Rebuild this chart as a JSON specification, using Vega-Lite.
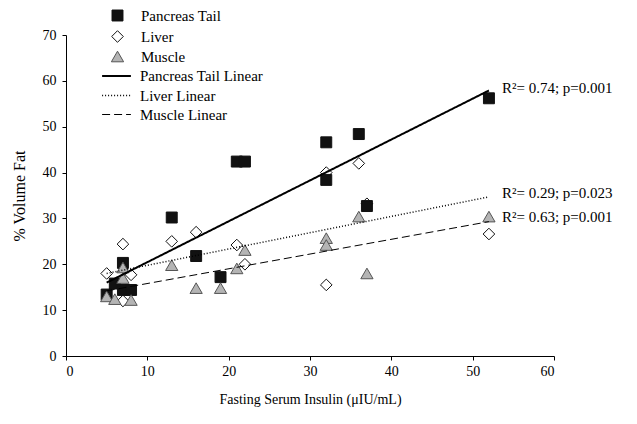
{
  "$schema": "https://vega.github.io/schema/vega-lite/v6.json",
  "width": 488,
  "height": 321,
  "autosize": {"type": "none"},
  "padding": {"left": 66, "top": 35, "right": 83, "bottom": 68},
  "background": "white",
  "config": {
    "view": {"stroke": null},
    "font": "Liberation Serif",
    "axis": {
      "labelFont": "Liberation Serif", "labelFontSize": 14, "labelColor": "#000",
      "titleFont": "Liberation Serif", "titleFontSize": 14, "titleFontWeight": "normal", "titleColor": "#000",
      "domainColor": "#000", "tickColor": "#000", "tickSize": 4, "grid": false
    },
    "legend": {
      "labelFont": "Liberation Serif", "labelFontSize": 15, "labelColor": "#000",
      "titleFont": "Liberation Serif"
    }
  },
  "datasets": {
    "points": [
      {"insulin": 5, "fat": 18.0, "series": "Liver"},
      {"insulin": 7, "fat": 24.4, "series": "Liver"},
      {"insulin": 7, "fat": 12.0, "series": "Liver"},
      {"insulin": 8, "fat": 17.7, "series": "Liver"},
      {"insulin": 13, "fat": 25.0, "series": "Liver"},
      {"insulin": 16, "fat": 27.0, "series": "Liver"},
      {"insulin": 21, "fat": 24.2, "series": "Liver"},
      {"insulin": 22, "fat": 20.0, "series": "Liver"},
      {"insulin": 32, "fat": 40.0, "series": "Liver"},
      {"insulin": 32, "fat": 15.5, "series": "Liver"},
      {"insulin": 36, "fat": 42.0, "series": "Liver"},
      {"insulin": 37, "fat": 33.2, "series": "Liver"},
      {"insulin": 52, "fat": 26.6, "series": "Liver"},
      {"insulin": 5, "fat": 13.4, "series": "Pancreas Tail"},
      {"insulin": 6, "fat": 15.8, "series": "Pancreas Tail"},
      {"insulin": 7, "fat": 20.3, "series": "Pancreas Tail"},
      {"insulin": 7, "fat": 14.4, "series": "Pancreas Tail"},
      {"insulin": 8, "fat": 14.4, "series": "Pancreas Tail"},
      {"insulin": 13, "fat": 30.2, "series": "Pancreas Tail"},
      {"insulin": 16, "fat": 21.8, "series": "Pancreas Tail"},
      {"insulin": 19, "fat": 17.2, "series": "Pancreas Tail"},
      {"insulin": 21, "fat": 42.4, "series": "Pancreas Tail"},
      {"insulin": 22, "fat": 42.4, "series": "Pancreas Tail"},
      {"insulin": 32, "fat": 46.6, "series": "Pancreas Tail"},
      {"insulin": 32, "fat": 38.4, "series": "Pancreas Tail"},
      {"insulin": 36, "fat": 48.4, "series": "Pancreas Tail"},
      {"insulin": 37, "fat": 32.7, "series": "Pancreas Tail"},
      {"insulin": 52, "fat": 56.2, "series": "Pancreas Tail"},
      {"insulin": 5, "fat": 13.0, "series": "Muscle"},
      {"insulin": 6, "fat": 12.4, "series": "Muscle"},
      {"insulin": 7, "fat": 19.3, "series": "Muscle"},
      {"insulin": 7, "fat": 17.0, "series": "Muscle"},
      {"insulin": 8, "fat": 12.2, "series": "Muscle"},
      {"insulin": 13, "fat": 19.8, "series": "Muscle"},
      {"insulin": 16, "fat": 14.8, "series": "Muscle"},
      {"insulin": 19, "fat": 14.8, "series": "Muscle"},
      {"insulin": 21, "fat": 19.1, "series": "Muscle"},
      {"insulin": 22, "fat": 23.1, "series": "Muscle"},
      {"insulin": 32, "fat": 25.7, "series": "Muscle"},
      {"insulin": 32, "fat": 24.2, "series": "Muscle"},
      {"insulin": 36, "fat": 30.4, "series": "Muscle"},
      {"insulin": 37, "fat": 18.0, "series": "Muscle"},
      {"insulin": 52, "fat": 30.4, "series": "Muscle"}
    ],
    "fits": [
      {"insulin": 5, "fat": 16.0, "fit": "Pancreas Tail Linear"},
      {"insulin": 52, "fat": 57.9, "fit": "Pancreas Tail Linear"},
      {"insulin": 5, "fat": 18.0, "fit": "Liver Linear"},
      {"insulin": 52, "fat": 34.7, "fit": "Liver Linear"},
      {"insulin": 5, "fat": 14.2, "fit": "Muscle Linear"},
      {"insulin": 52, "fat": 29.3, "fit": "Muscle Linear"}
    ],
    "labels": [
      {"insulin": 52, "fat": 58.4, "label": "R²= 0.74; p=0.001"},
      {"insulin": 52, "fat": 35.5, "label": "R²= 0.29; p=0.023"},
      {"insulin": 52, "fat": 30.4, "label": "R²= 0.63; p=0.001"}
    ]
  },
  "encoding": {
    "x": {
      "field": "insulin", "type": "quantitative",
      "scale": {"domain": [0, 60], "nice": false, "zero": true},
      "axis": {"values": [0, 10, 20, 30, 40, 50, 60], "title": "Fasting Serum Insulin (μIU/mL)", "labelPadding": 4, "titlePadding": 14}
    },
    "y": {
      "field": "fat", "type": "quantitative",
      "scale": {"domain": [0, 70], "nice": false},
      "axis": {"values": [0, 10, 20, 30, 40, 50, 60, 70], "title": "% Volume Fat", "labelPadding": 6, "titlePadding": 15, "titleFontSize": 16}
    }
  },
  "layer": [
    {
      "data": {"name": "points"},
      "mark": {"type": "point", "filled": true, "strokeWidth": 1, "opacity": 1},
      "encoding": {
        "shape": {
          "field": "series", "type": "nominal",
          "scale": {"domain": ["Pancreas Tail", "Liver", "Muscle"], "range": ["square", "diamond", "triangle-up"]},
          "legend": {"title": null, "orient": "none", "legendX": 44, "legendY": -27, "rowPadding": 4, "labelOffset": 16, "symbolStrokeWidth": 1}
        },
        "size": {
          "field": "series", "type": "nominal",
          "scale": {"domain": ["Pancreas Tail", "Liver", "Muscle"], "range": [120, 150, 130]},
          "legend": {"title": null, "orient": "none", "legendX": 44, "legendY": -27, "rowPadding": 4, "labelOffset": 16, "symbolStrokeWidth": 1}
        },
        "fill": {
          "field": "series", "type": "nominal",
          "scale": {"domain": ["Pancreas Tail", "Liver", "Muscle"], "range": ["#111111", "#ffffff", "#b4b4b4"]},
          "legend": {"title": null, "orient": "none", "legendX": 44, "legendY": -27, "rowPadding": 4, "labelOffset": 16, "symbolStrokeWidth": 1}
        },
        "stroke": {
          "field": "series", "type": "nominal",
          "scale": {"domain": ["Pancreas Tail", "Liver", "Muscle"], "range": ["#111111", "#111111", "#555555"]},
          "legend": {"title": null, "orient": "none", "legendX": 44, "legendY": -27, "rowPadding": 4, "labelOffset": 16, "symbolStrokeWidth": 1}
        }
      }
    },
    {
      "data": {"name": "fits"},
      "mark": {"type": "line", "color": "#000"},
      "encoding": {
        "detail": {"field": "fit", "type": "nominal"},
        "strokeDash": {
          "field": "fit", "type": "nominal",
          "scale": {"domain": ["Pancreas Tail Linear", "Liver Linear", "Muscle Linear"], "range": [[1, 0], [1, 2], [8, 4]]},
          "legend": {"title": null, "orient": "none", "legendX": 41.5, "legendY": 32, "rowPadding": 2.5, "labelOffset": 14.5, "symbolSize": 256, "symbolType": "M-1.8,0H1.8", "symbolStrokeColor": "#000", "symbolFillColor": "transparent"}
        },
        "strokeWidth": {
          "field": "fit", "type": "nominal",
          "scale": {"domain": ["Pancreas Tail Linear", "Liver Linear", "Muscle Linear"], "range": [2, 1, 1.5]},
          "legend": {"title": null, "orient": "none", "legendX": 41.5, "legendY": 32, "rowPadding": 2.5, "labelOffset": 14.5, "symbolSize": 256, "symbolType": "M-1.8,0H1.8", "symbolStrokeColor": "#000", "symbolFillColor": "transparent"}
        }
      }
    },
    {
      "data": {"name": "labels"},
      "mark": {"type": "text", "align": "left", "baseline": "middle", "dx": 13, "font": "Liberation Serif", "fontSize": 15, "color": "#000"},
      "encoding": {
        "text": {"field": "label", "type": "nominal"}
      }
    }
  ]
}
